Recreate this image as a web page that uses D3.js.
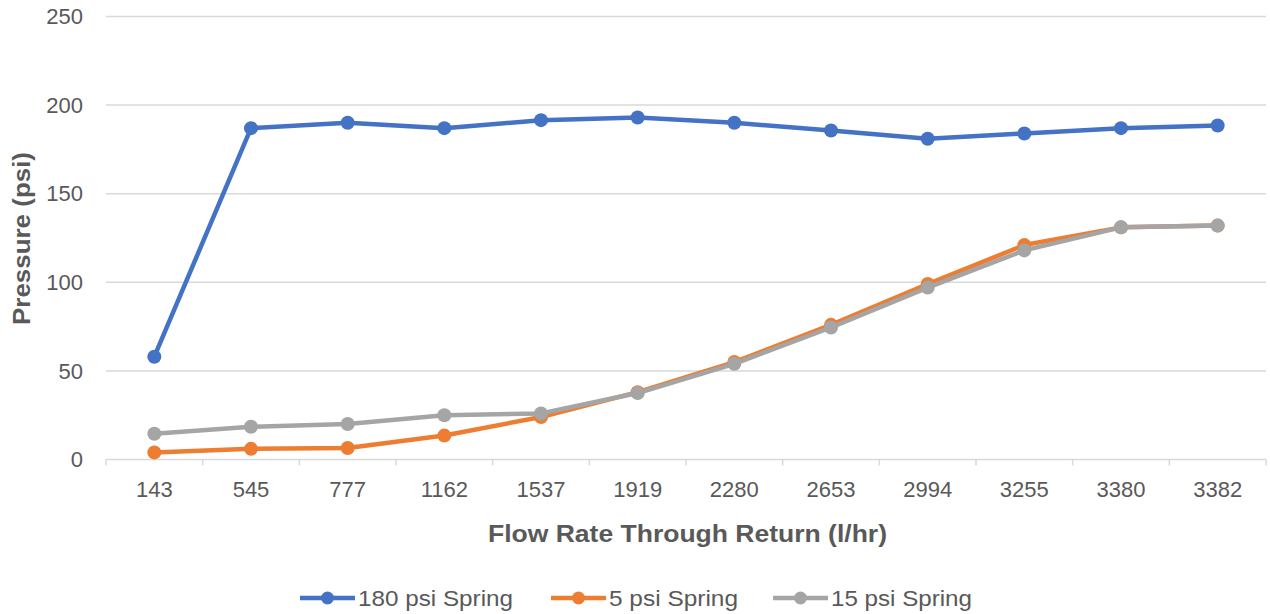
<!DOCTYPE html>
<html><head><meta charset="utf-8">
<script src="https://cdn.jsdelivr.net/npm/d3@7"></script>
<style>
body{margin:0;background:#fff;}
text{font-family:"Liberation Sans",Arial,Helvetica,sans-serif;}
</style></head>
<body><svg id="c" width="1270" height="614"></svg>
<script>
const categories = ["143","545","777","1162","1537","1919","2280","2653","2994","3255","3380","3382"];
const s180 = [58,187,190,187,191.5,193,190,185.7,181,184,187,188.5];
const s5 = [4,6,6.5,13.5,24,38,55,76,99,121,131,132];
const s15 = [14.5,18.5,20,25,26,37.5,54,74.5,97,118,131,132];
const yTicks = [0,50,100,150,200,250];
const seriesNames = ["180 psi Spring","5 psi Spring","15 psi Spring"];
const colors = ["#4472C4","#ED7D31","#A5A5A5"];

const svg = d3.select("#c");
const L = 106, R = 1266, T = 16.5, B = 459.5;
const x = d3.scaleBand().domain(categories).range([L,R]);
const y = d3.scaleLinear().domain([0,250]).range([B,T]);

// grid
svg.append("g").selectAll("line").data(yTicks.filter(d=>d>0)).join("line")
  .attr("x1",L).attr("x2",R).attr("y1",d=>y(d)).attr("y2",d=>y(d))
  .attr("stroke","#d9d9d9").attr("stroke-width",1.5);

// y labels
svg.append("g").selectAll("text").data(yTicks).join("text")
  .attr("x",83).attr("y",d=>y(d)).attr("dy","0.35em").attr("text-anchor","end")
  .attr("font-size",22).attr("fill","#595959").text(d=>d);

// x axis
const xa = svg.append("g").attr("transform",`translate(0,${B})`)
  .call(d3.axisBottom(x).tickSize(0).tickPadding(0));
xa.select(".domain").remove();
xa.selectAll("text").attr("font-size",22).attr("fill","#595959").attr("dy",null).attr("y",37.5)
  .attr("font-family","Liberation Sans, Arial, sans-serif");
svg.append("line").attr("x1",L).attr("x2",R).attr("y1",B).attr("y2",B)
  .attr("stroke","#d9d9d9").attr("stroke-width",1.5);
const bounds = categories.map(c=>x(c)).concat([R]);
svg.append("g").selectAll("line").data(bounds).join("line")
  .attr("x1",d=>d).attr("x2",d=>d).attr("y1",B).attr("y2",B+6)
  .attr("stroke","#d9d9d9").attr("stroke-width",1.5);

// titles
svg.append("text").attr("x",687.5).attr("y",542).attr("text-anchor","middle")
  .attr("font-size",24).attr("font-weight","bold").attr("fill","#595959")
  .attr("textLength",399).attr("lengthAdjust","spacingAndGlyphs")
  .text("Flow Rate Through Return (l/hr)");
svg.append("text").attr("transform",`translate(30,238.5) rotate(-90)`)
  .attr("text-anchor","middle").attr("font-size",24).attr("font-weight","bold")
  .attr("textLength",173).attr("lengthAdjust","spacingAndGlyphs")
  .attr("fill","#595959").text("Pressure (psi)");

// series
const data = [s180,s5,s15];
const cx = c => x(c)+x.bandwidth()/2;
const line = d3.line().x((d,i)=>cx(categories[i])).y(d=>y(d));
data.forEach((s,k)=>{
  const g = svg.append("g");
  g.append("path").datum(s).attr("d",line).attr("fill","none")
    .attr("stroke",colors[k]).attr("stroke-width",4.5).attr("stroke-linejoin","round");
  g.selectAll("circle").data(s).join("circle")
    .attr("cx",(d,i)=>cx(categories[i])).attr("cy",d=>y(d)).attr("r",7)
    .attr("fill",colors[k]);
});

// legend
const legX = [300,551,773];
const legW = [155,129,141];
seriesNames.forEach((n,k)=>{
  const g = svg.append("g").attr("transform",`translate(${legX[k]},598)`);
  g.append("line").attr("x1",0).attr("x2",55).attr("stroke",colors[k]).attr("stroke-width",4.5);
  g.append("circle").attr("cx",27.5).attr("r",6.5).attr("fill",colors[k]);
  g.append("text").attr("x",58).attr("y",8).attr("font-size",22)
    .attr("textLength",legW[k]).attr("lengthAdjust","spacingAndGlyphs")
    .attr("fill","#595959").text(n);
});
</script></body></html>
